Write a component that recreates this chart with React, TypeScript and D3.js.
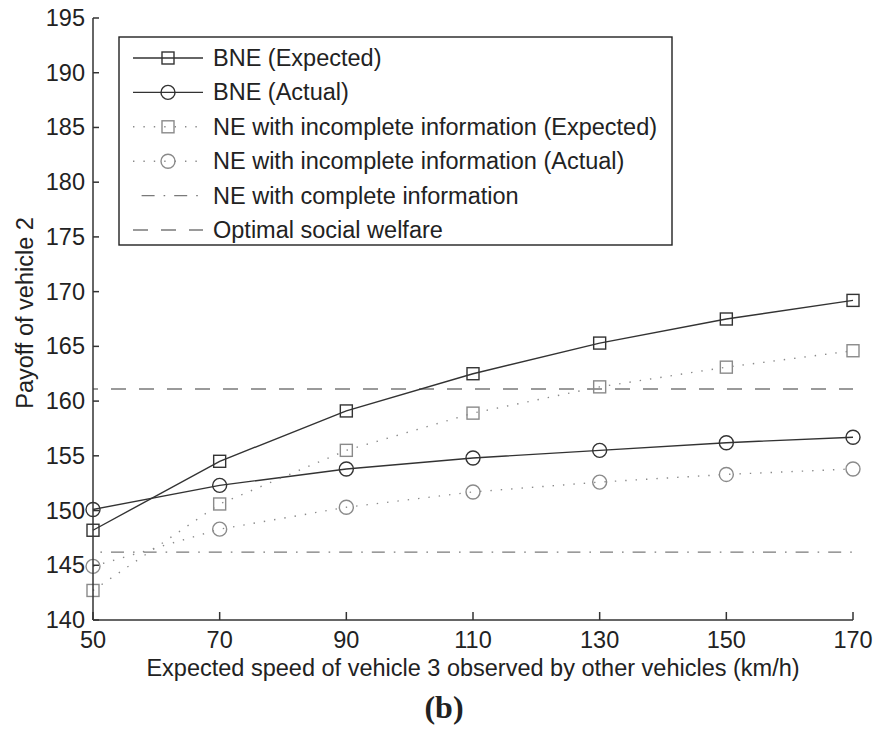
import React from "react";
import * as d3 from "d3";

// Expected speed of vehicle 3 (km/h)
const speeds = [50, 70, 90, 110, 130, 150, 170];
// Payoff of vehicle 2 for each scheme
const bneExpected = [148.2, 154.5, 159.1, 162.5, 165.3, 167.5, 169.2];
const bneActual = [150.1, 152.3, 153.8, 154.8, 155.5, 156.2, 156.7];
const neIncompleteExpected = [142.7, 150.6, 155.5, 158.9, 161.3, 163.1, 164.6];
const neIncompleteActual = [144.9, 148.3, 150.3, 151.7, 152.6, 153.3, 153.8];
const neCompleteValue = 146.2;
const optimalWelfareValue = 161.1;

const xTicks = [50, 70, 90, 110, 130, 150, 170];
const yTicks = [140, 145, 150, 155, 160, 165, 170, 175, 180, 185, 190, 195];

const legendLabels = [
  "BNE (Expected)",
  "BNE (Actual)",
  "NE with incomplete information (Expected)",
  "NE with incomplete information (Actual)",
  "NE with complete information",
  "Optimal social welfare",
];

const W = 878;
const H = 731;
const FONT = "'Liberation Sans', Arial, Helvetica, sans-serif";
const FS = 23.5;

const dark = "#333";
const gray = "#8a8a8a";
const refGray = "#7a7a7a";
const DOTTED = "1.4 9";
const DASHED = "15 13";
const DASHDOT = "13 9 1.6 9";

type Marker = "square" | "circle";

function MarkerShape({ kind, cx, cy, color }: { kind: Marker; cx: number; cy: number; color: string }) {
  if (kind === "square") {
    const s = 12;
    return <rect x={cx - s / 2} y={cy - s / 2} width={s} height={s} fill="none" stroke={color} strokeWidth={1.4} />;
  }
  return <circle cx={cx} cy={cy} r={7} fill="none" stroke={color} strokeWidth={1.4} />;
}

export default function App() {
  const x = d3.scaleLinear().domain([50, 170]).range([93, 853]);
  const y = d3.scaleLinear().domain([140, 195]).range([620, 18]);

  const line = d3
    .line<number>()
    .x((_, i) => x(speeds[i]))
    .y((d) => y(d));

  const series = [
    { values: bneExpected, marker: "square" as Marker, color: dark, dash: undefined as string | undefined },
    { values: bneActual, marker: "circle" as Marker, color: dark, dash: undefined },
    { values: neIncompleteExpected, marker: "square" as Marker, color: gray, dash: DOTTED },
    { values: neIncompleteActual, marker: "circle" as Marker, color: gray, dash: DOTTED },
  ];

  const refs = [
    { value: neCompleteValue, dash: DASHDOT },
    { value: optimalWelfareValue, dash: DASHED },
  ];

  const legendItems = [
    { color: dark, dash: undefined as string | undefined, marker: "square" as Marker | null, offset: 0 },
    { color: dark, dash: undefined, marker: "circle" as Marker | null, offset: 0 },
    { color: gray, dash: DOTTED, marker: "square" as Marker | null, offset: 0 },
    { color: gray, dash: DOTTED, marker: "circle" as Marker | null, offset: 0 },
    { color: refGray, dash: DASHDOT, marker: null, offset: 24 },
    { color: refGray, dash: DASHED, marker: null, offset: 0 },
  ];

  const lgX0 = 119;
  const lgY0 = 37;
  const lgX1 = 672;
  const lgY1 = 245;
  const rowY = (i: number) => 58 + 34.4 * i;

  return (
    <svg
      width={W}
      height={H}
      viewBox={`0 0 ${W} ${H}`}
      style={{ position: "absolute", left: 0, top: 0, background: "#fff" }}
      fontFamily={FONT}
    >
      <rect x={0} y={0} width={W} height={H} fill="#fff" />

      {/* reference levels */}
      {refs.map((r, i) => (
        <line
          key={`ref-${i}`}
          x1={x(50)}
          x2={x(170)}
          y1={y(r.value)}
          y2={y(r.value)}
          stroke={refGray}
          strokeWidth={1.4}
          strokeDasharray={r.dash}
          strokeDashoffset={-18}
        />
      ))}

      {/* series */}
      {series.map((s, i) => (
        <g key={`s-${i}`}>
          <path d={line(s.values) || ""} fill="none" stroke={s.color} strokeWidth={1.4} strokeDasharray={s.dash} />
          {s.values.map((v, j) => (
            <MarkerShape key={j} kind={s.marker} cx={x(speeds[j])} cy={y(v)} color={s.color} />
          ))}
        </g>
      ))}

      {/* axes */}
      <line x1={x(50)} x2={x(50)} y1={y(140)} y2={y(195)} stroke={dark} strokeWidth={1.5} />
      <line x1={x(50)} x2={x(170)} y1={y(140)} y2={y(140)} stroke={dark} strokeWidth={1.5} />
      {yTicks.map((t) => (
        <g key={`yt-${t}`}>
          <line x1={x(50)} x2={x(50) + 6} y1={y(t)} y2={y(t)} stroke={dark} strokeWidth={1.5} />
          <text x={85} y={y(t)} textAnchor="end" dominantBaseline="central" fontSize={FS} fill="#222">
            {t}
          </text>
        </g>
      ))}
      {xTicks.map((t) => (
        <g key={`xt-${t}`}>
          <line x1={x(t)} x2={x(t)} y1={y(140)} y2={y(140) - 8} stroke={dark} strokeWidth={1.5} />
          <text x={x(t)} y={648} textAnchor="middle" fontSize={FS} fill="#222">
            {t}
          </text>
        </g>
      ))}

      {/* axis titles */}
      <text x={(x(50) + x(170)) / 2} y={676} textAnchor="middle" fontSize={FS} fill="#222">
        Expected speed of vehicle 3 observed by other vehicles (km/h)
      </text>
      <text
        transform={`translate(25, 313) rotate(-90)`}
        textAnchor="middle"
        dominantBaseline="central"
        fontSize={FS}
        fill="#222"
      >
        Payoff of vehicle 2
      </text>
      <text
        x={444}
        y={718}
        textAnchor="middle"
        fontSize={32}
        fontWeight="bold"
        fontFamily="'Liberation Serif', 'DejaVu Serif', serif"
        fill="#222"
      >
        (b)
      </text>

      {/* legend */}
      <rect x={lgX0} y={lgY0} width={lgX1 - lgX0} height={lgY1 - lgY0} fill="#fff" stroke="#222" strokeWidth={1.4} />
      {legendItems.map((it, i) => (
        <g key={`lg-${i}`}>
          <line
            x1={133}
            x2={203}
            y1={rowY(i)}
            y2={rowY(i)}
            stroke={it.color}
            strokeWidth={1.4}
            strokeDasharray={it.dash}
            strokeDashoffset={it.offset}
          />
          {it.marker && <MarkerShape kind={it.marker} cx={168} cy={rowY(i)} color={it.color} />}
          <text x={213} y={rowY(i)} dominantBaseline="central" fontSize={FS} fill="#222">
            {legendLabels[i]}
          </text>
        </g>
      ))}
    </svg>
  );
}
